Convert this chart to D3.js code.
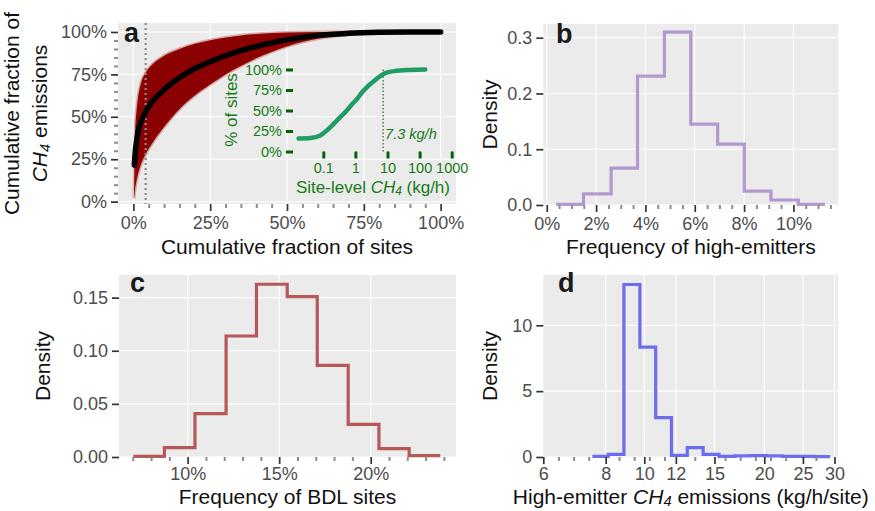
<!DOCTYPE html>
<html>
<head>
<meta charset="utf-8">
<script src="https://cdn.jsdelivr.net/npm/d3@7"></script>
<style>
  body { margin: 0; background: #fff; }
  svg { font-family: "Liberation Sans", Arial, Helvetica, sans-serif; }
</style>
</head>
<body>
<svg id="fig" width="875" height="511"></svg>
<script>
// ---- panel a: cumulative emissions curve and the simulated fan ----
const curveX = [0.003, 0.006, 0.01, 0.015, 0.025, 0.04, 0.06, 0.1, 0.15, 0.2, 0.25, 0.3, 0.35, 0.4, 0.5, 0.6, 0.7, 0.8, 0.9, 1.0];
const curveY = [0.215, 0.29, 0.35, 0.41, 0.47, 0.53, 0.585, 0.66, 0.73, 0.785, 0.825, 0.86, 0.89, 0.915, 0.955, 0.98, 0.992, 0.998, 1.0, 1.0];
const fanX = [0.002, 0.004, 0.006, 0.01, 0.015, 0.025, 0.04, 0.06, 0.1, 0.15, 0.2, 0.25, 0.3, 0.35, 0.4, 0.5, 0.6, 0.7, 0.8, 1.0];
const fanHi = [0.03, 0.25, 0.42, 0.53, 0.61, 0.70, 0.76, 0.805, 0.86, 0.9, 0.93, 0.952, 0.968, 0.98, 0.988, 0.997, 1.0, 1.0, 1.0, 1.0];
const fanLo = [0.02, 0.05, 0.08, 0.12, 0.16, 0.22, 0.28, 0.34, 0.44, 0.545, 0.625, 0.69, 0.75, 0.80, 0.845, 0.915, 0.96, 0.985, 0.997, 1.0];
const bdlCut = 0.04;
const pctTicks = [0, 0.25, 0.5, 0.75, 1];

// inset: site-level distribution
const insetKg = [0.017, 0.04, 0.08, 0.11, 0.18, 0.26, 0.38, 0.54, 0.8, 1.12, 1.6, 2.3, 3.3, 4.7, 7.5, 10, 16, 50, 150];
const insetFrac = [0.16, 0.165, 0.195, 0.235, 0.31, 0.375, 0.44, 0.50, 0.58, 0.64, 0.72, 0.785, 0.84, 0.89, 0.945, 0.965, 0.98, 0.995, 1.0];
const insetCut = 7.3;
const insetXTicks = [0.1, 1, 10, 100, 1000];
const insetXLabels = ["0.1", "1", "10", "100", "1000"];

// ---- panel b: frequency of high-emitters ----
const hiFreqEdges = [0.0038, 0.0149, 0.0261, 0.0368, 0.0477, 0.0584, 0.0693, 0.0801, 0.0909, 0.102, 0.1128];
const hiFreqDens = [0.001, 0.020, 0.066, 0.231, 0.310, 0.145, 0.109, 0.025, 0.009, 0.001];
const bXTicks = [0, 0.02, 0.04, 0.06, 0.08, 0.10];
const bYTicks = [0, 0.1, 0.2, 0.3];

// ---- panel c: frequency of BDL sites ----
const bdlEdges = [0.0703, 0.0873, 0.104, 0.121, 0.1376, 0.1544, 0.1708, 0.1877, 0.2045, 0.221, 0.238];
const bdlDens = [0.0006, 0.0088, 0.0408, 0.1139, 0.1626, 0.1509, 0.0863, 0.0308, 0.0078, 0.0013];
const cXTicks = [0.10, 0.15, 0.20];
const cYTicks = [0, 0.05, 0.10, 0.15];

// ---- panel d: high-emitter emissions ----
const hiEmEdges = [7.41, 8.12, 8.89, 9.75, 10.68, 11.70, 12.82, 14.05, 15.40, 16.88, 18.50, 20.28, 22.22, 24.36, 26.70, 29.26];
const hiEmDens = [0.05, 0.2, 13.1, 8.35, 2.99, 0.13, 0.71, 0.2, 0.05, 0.08, 0.1, 0.08, 0.05, 0.05, 0.03];
const dXTicks = [8, 10, 12, 15, 20, 25, 30];
const dYTicks = [0, 5, 10];

const svg = d3.select("#fig");
const pct = d3.format(".0%");

function panel(l, r, t, b) {
  svg.append("rect").attr("x", l).attr("y", t).attr("width", r - l).attr("height", b - t).attr("fill", "#ebebeb");
}

function grid(x, y, xv, yv) {
  const [x0, x1] = x.range(), [y0, y1] = y.range();
  const g = svg.append("g").attr("stroke", "#fff").attr("stroke-width", 1.1);
  xv.forEach(v => g.append("line").attr("x1", x(v)).attr("x2", x(v)).attr("y1", y0).attr("y2", y1));
  yv.forEach(v => g.append("line").attr("y1", y(v)).attr("y2", y(v)).attr("x1", x0).attr("x2", x1));
}

function styleAxis(g, size, col) {
  g.attr("font-family", null).attr("font-size", size);
  g.select(".domain").remove();
  g.selectAll(".tick line").attr("stroke", col || "#333").attr("stroke-width", 1.7);
  g.selectAll(".tick text").attr("fill", col || "#4d4d4d");
}

function minor(axis, pos, vals, horizontal) {
  const g = svg.append("g").attr("transform", horizontal ? `translate(0,${pos})` : `translate(${pos},0)`)
    .call(axis.tickValues(vals).tickFormat("").tickSize(4));
  g.select(".domain").remove();
  g.selectAll("line").attr("stroke", "#8c8c8c").attr("stroke-width", 2);
}

function xAxis(x, y0, vals, fmt, pad) {
  const g = svg.append("g").attr("transform", `translate(0,${y0})`)
    .call(d3.axisBottom(x).tickValues(vals).tickFormat(fmt).tickSize(7).tickPadding(pad));
  styleAxis(g, 18);
}

function yAxis(y, x0, vals, fmt) {
  const g = svg.append("g").attr("transform", `translate(${x0},0)`)
    .call(d3.axisLeft(y).tickValues(vals).tickFormat(fmt).tickSize(7).tickPadding(4));
  styleAxis(g, 18);
}

function title(txt, x, y, rot) {
  const t = svg.append("text").attr("text-anchor", "middle").attr("font-size", 21).attr("fill", "#111")
    .attr("transform", `translate(${x},${y})` + (rot ? " rotate(-90)" : ""));
  return t.text(txt);
}

function ch4(t, before, after) {
  t.text(null);
  if (before) t.append("tspan").text(before);
  t.append("tspan").attr("font-style", "italic").text("CH");
  t.append("tspan").attr("font-style", "italic").attr("font-size", "0.7em").attr("dy", "0.2em").text("4");
  t.append("tspan").attr("dy", "-0.14em").text(after);
}

function tag(txt, x, y) {
  svg.append("text").attr("x", x).attr("y", y).attr("font-size", 27).attr("font-weight", "bold")
    .attr("fill", "#1a1a1a").text(txt);
}

function steps(edges, dens) {
  const pts = [];
  dens.forEach((v, i) => { pts.push([edges[i], v]); pts.push([edges[i + 1], v]); });
  return pts;
}

function hist(x, y, edges, dens, col) {
  svg.append("path").datum(steps(edges, dens))
    .attr("d", d3.line().x(p => x(p[0])).y(p => y(p[1])))
    .attr("fill", "none").attr("stroke", col).attr("stroke-width", 3.2).attr("stroke-opacity", 0.9);
}

// ================= panel a =================
const xa = d3.scaleLinear().domain([-0.05, 1.05]).range([118, 456]);
const ya = d3.scaleLinear().domain([-0.014, 1.053]).range([204, 23]);
panel(118, 456, 23, 204);
grid(xa, ya, pctTicks, pctTicks);

const fanIdx = d3.range(fanX.length);
svg.append("path").datum(fanIdx)
  .attr("d", d3.area().x(i => xa(fanX[i])).y0(i => ya(fanLo[i])).y1(i => ya(fanHi[i])).curve(d3.curveMonotoneX))
  .attr("fill", "#8b0000").attr("stroke", "#a01010").attr("stroke-opacity", 0.3).attr("stroke-width", 3);

svg.append("line").attr("x1", xa(bdlCut)).attr("x2", xa(bdlCut)).attr("y1", 23).attr("y2", 204)
  .attr("stroke", "#8c8c8c").attr("stroke-width", 2.2).attr("stroke-dasharray", "2,3");

svg.append("path").datum(d3.range(curveX.length))
  .attr("d", d3.line().x(i => xa(curveX[i])).y(i => ya(curveY[i])).curve(d3.curveMonotoneX))
  .attr("fill", "none").attr("stroke", "#000").attr("stroke-width", 5.5).attr("stroke-linecap", "round");

const minA = d3.range(21).map(i => i * 0.05).filter(v => Math.round(v * 100) % 25 !== 0);
minor(d3.axisBottom(xa), 204, minA, true);
minor(d3.axisLeft(ya), 118, minA, false);
xAxis(xa, 204, pctTicks, pct, 5);
yAxis(ya, 118, pctTicks, pct);
title("Cumulative fraction of sites", 287, 254);
title("Cumulative fraction of", 19, 113.5, true);
ch4(title("", 47, 113.5, true), "", " emissions");
tag("a", 124, 42);

// inset
const green = "#167c16";
const xi = d3.scaleLog().domain([0.1, 1000]).range([323.3, 451.7]);
const yi = d3.scaleLinear().domain([0, 1]).range([151.5, 69.5]);
svg.append("line").attr("x1", xi(insetCut)).attr("x2", xi(insetCut)).attr("y1", yi(0)).attr("y2", yi(1))
  .attr("stroke", "#0d5e0d").attr("stroke-width", 1.1).attr("stroke-dasharray", "1.5,2");
svg.append("path").datum(d3.range(insetKg.length))
  .attr("d", d3.line().x(i => xi(insetKg[i])).y(i => yi(insetFrac[i])).curve(d3.curveMonotoneX))
  .attr("fill", "none").attr("stroke", "#1f9d62").attr("stroke-width", 4.5).attr("stroke-linecap", "round");
const giy = svg.append("g").attr("transform", "translate(293,0)")
  .call(d3.axisLeft(yi).tickValues(pctTicks).tickFormat(pct).tickSize(7).tickPadding(4));
styleAxis(giy, 14.5, green);
giy.selectAll(".tick line").attr("stroke", "#006400").attr("stroke-width", 3);
const gix = svg.append("g").attr("transform", "translate(0,151.5)")
  .call(d3.axisBottom(xi).tickValues(insetXTicks).tickFormat((d, i) => insetXLabels[i]).tickSize(7).tickPadding(4));
styleAxis(gix, 14.5, green);
gix.selectAll(".tick line").attr("stroke", "#006400").attr("stroke-width", 3);
svg.append("text").attr("x", xi(insetCut) + 2).attr("y", 139).attr("font-size", 14.5)
  .attr("font-style", "italic").attr("fill", green).text("7.3 kg/h");
svg.append("text").attr("transform", "translate(237,110) rotate(-90)").attr("text-anchor", "middle")
  .attr("font-size", 17).attr("fill", green).text("% of sites");
const it = svg.append("text").attr("x", 373).attr("y", 193).attr("text-anchor", "middle")
  .attr("font-size", 17).attr("fill", green);
ch4(it, "Site-level ", " (kg/h)");

// ================= panel b =================
const xb = d3.scaleLinear().domain([-0.0014, 0.1182]).range([543.3, 838.3]);
const yb = d3.scaleLinear().domain([0, 0.3246]).range([205, 24]);
panel(543.3, 838.3, 24, 205);
grid(xb, yb, bXTicks, bYTicks);
hist(xb, yb, hiFreqEdges, hiFreqDens, "#ad8fcc");
minor(d3.axisBottom(xb), 205, d3.range(24).map(i => i * 0.005).filter(v => Math.round(v * 1000) % 20 !== 0), true);
xAxis(xb, 205, bXTicks, pct, 5);
yAxis(yb, 543.3, bYTicks, d3.format(".1f"));
title("Frequency of high-emitters", 690.8, 254);
title("Density", 497, 114.5, true);
tag("b", 556, 43);

// ================= panel c =================
const xc = d3.scaleLinear().domain([0.0625, 0.2466]).range([119, 456]);
const yc = d3.scaleLinear().domain([0, 0.1713]).range([457, 275]);
panel(119, 456, 275, 457);
grid(xc, yc, cXTicks, cYTicks);
hist(xc, yc, bdlEdges, bdlDens, "#b04848");
minor(d3.axisBottom(xc), 457, d3.range(7, 25).filter(v => v % 5 !== 0).map(v => v / 100), true);
xAxis(xc, 457, cXTicks, pct, 3);
yAxis(yc, 119, cYTicks, d3.format(".2f"));
title("Frequency of BDL sites", 287.5, 503.5);
title("Density", 50, 366, true);
tag("c", 130, 292);

// ================= panel d =================
const xd = d3.scaleLog().domain([5.58, 30.67]).range([543.3, 838.3]);
const yd = d3.scaleLinear().domain([0, 13.82]).range([457, 275]);
panel(543.3, 838.3, 275, 457);
grid(xd, yd, dXTicks, dYTicks);
hist(xd, yd, hiEmEdges, hiEmDens, "#5e5ef0");
const lo = Math.log10(xd.domain()[0]), hi = Math.log10(xd.domain()[1]);
const minD = d3.range(lo + 0.038, hi, 0.038).map(v => Math.pow(10, v))
  .filter(v => dXTicks.every(t => Math.abs(xd(v) - xd(t)) > 5));
minor(d3.axisBottom(xd), 457, minD, true);
const dMajor = [xd.domain()[0]].concat(dXTicks);
xAxis(xd, 457, dMajor, (d, i) => (i === 0 ? "6" : String(d)), 3);
yAxis(yd, 543.3, dYTicks, d3.format("d"));
ch4(title("", 690.8, 503.5), "High-emitter ", " emissions (kg/h/site)");
title("Density", 497, 366, true);
tag("d", 558, 292);
</script>
</body>
</html>
